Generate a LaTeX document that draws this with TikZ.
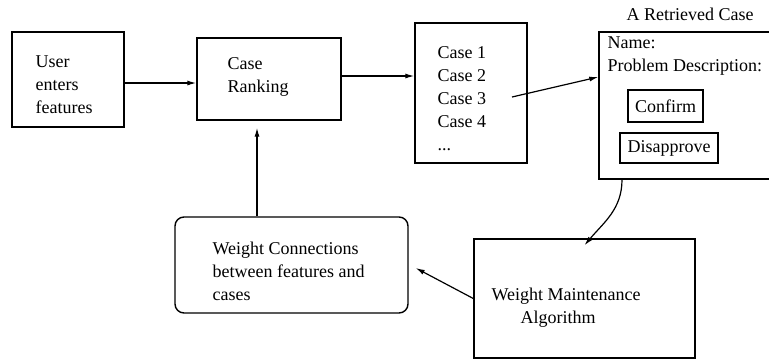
\documentclass[tikz,border=0pt]{standalone}
\usepackage{fontspec}
\setmainfont{Liberation Serif}
\usetikzlibrary{arrows.meta}

\tikzset{
  box/.style={draw, line width=1.4pt, inner sep=0pt},
  txt/.style={inner sep=0pt, align=left, anchor=west},
}

\begin{document}
\begin{tikzpicture}[x=1pt,y=-1pt,>={Latex[length=9pt,width=5pt]},line width=1.2pt,
  font=\fontsize{18}{23}\selectfont]
   \useasboundingbox (0,0) rectangle (769,360);

   % boxes
   \node[box, minimum width=112pt, minimum height=95pt]  (user)   at (68,79.5)    {};
   \node[box, minimum width=144pt, minimum height=82pt]  (rank)   at (269,79)     {};
   \node[box, minimum width=112pt, minimum height=140pt] (list)   at (471,93)     {};
   \node[box, minimum width=173pt, minimum height=147pt] (retr)   at (685.5,105.5) {};
   \node[box, minimum width=75pt,  minimum height=32pt]  (conf)   at (665.5,106)  {Confirm};
   \node[box, minimum width=98pt,  minimum height=30pt]  (disapp) at (669,148)    {Disapprove};
   \node[box, rounded corners=9pt, minimum width=233pt, minimum height=96pt] (wconn) at (291.5,265) {};
   \node[box, minimum width=221pt, minimum height=119pt] (wmaint) at (584.5,298.5) {};

   % texts
   \node[txt] (usertxt)   at (35,85)    {User\\enters\\features};
   \node[txt] (ranktxt)   at (227,76.5) {Case\\Ranking};
   \node[txt] (listtxt)   at (437,99)   {Case 1\\Case 2\\Case 3\\Case 4\\...};
   \node[inner sep=0pt] (title) at (690,14) {A Retrieved Case};
   \node[txt] (retrtxt)   at (607,56.5) {Name:\\Problem Description:};
   \node[txt] (wconntxt)  at (212,271)  {Weight Connections\\between features and\\cases};
   \node[txt] (wmainttxt) at (491,307.5) {Weight Maintenance\\\hspace*{29pt}Algorithm};

   \coordinate (c3) at (512,97);

   % arrows
   \draw[->] ([yshift=-3.5pt]user.east) -- ([yshift=-4pt]rank.west);
   \draw[->] ([yshift=3pt]rank.east) -- ([yshift=17pt]list.west);
   \draw[->] (c3) -- ([yshift=28.5pt]retr.west);
   \draw[->] ([xshift=-63.5pt]retr.south) to[out=-90,in=50] ([yshift=-7pt]wmaint.north);
   \draw[->] (wmaint.west) -- ([xshift=7pt,yshift=-3pt]wconn.east);
   \draw[->] ([xshift=-34.5pt]wconn.north) -- ([xshift=-12pt,yshift=-7pt]rank.south);
\end{tikzpicture}
\end{document}
